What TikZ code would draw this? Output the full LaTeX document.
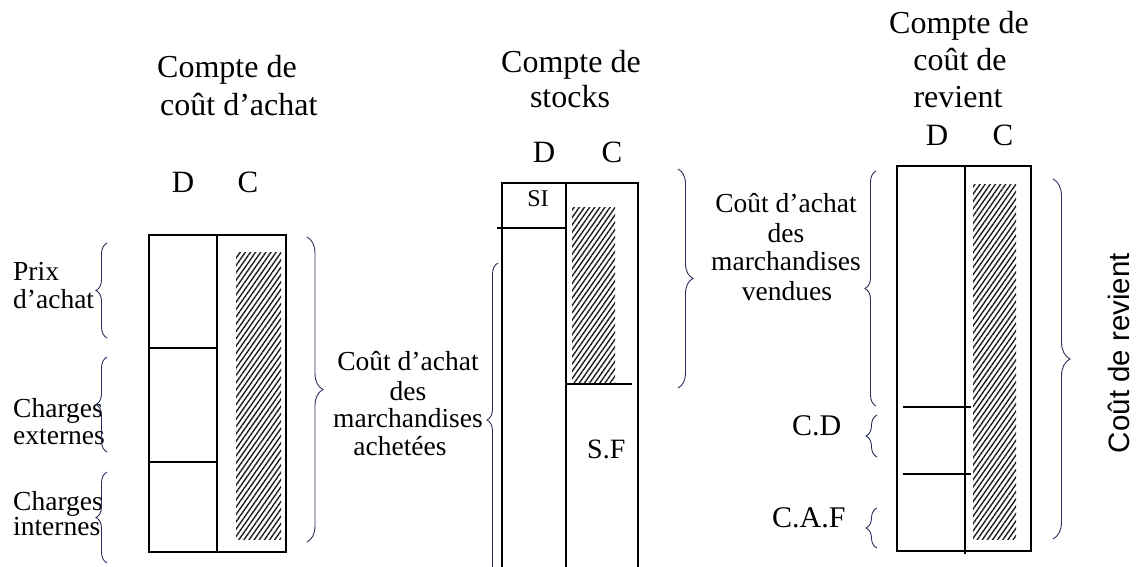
\documentclass[tikz,border=0pt]{standalone}
\usepackage{fontspec}
\setmainfont{Liberation Serif}
\newfontfamily\sansf{Liberation Sans}
\usetikzlibrary{decorations.pathreplacing,patterns.meta}
\definecolor{bracecol}{RGB}{40,48,90}
\definecolor{hatchcol}{RGB}{30,30,30}
\tikzset{
  boxline/.style={line width=1.2pt},
  hatchfill/.style={pattern={Lines[angle=55,distance=4.2pt,line width=1.4pt]},pattern color=hatchcol},
  lbrace/.style={draw=bracecol,line width=0.9pt,decorate,decoration={brace,amplitude=#1}},
  lbrace/.default=11pt,
  ttl/.style={inner sep=0pt,font=\fontsize{32}{37}\selectfont},
  lab/.style={inner sep=0pt,font=\fontsize{27.5}{32}\selectfont},
  dc/.style={inner sep=0pt,font=\fontsize{31}{37}\selectfont}
}
\begin{document}
\begin{tikzpicture}[x=1pt,y=-1pt]
\useasboundingbox (0,0) rectangle (1136,566);

% ---------- Compte de coût d'achat ----------
\node[ttl,anchor=base west] (t1a) at (157,77) {Compte de};
\node[ttl,anchor=base west] (t1b) at (160,115) {coût d’achat};
\node[dc,anchor=base] (d1) at (183,192) {D};
\node[dc,anchor=base] (c1) at (248,192) {C};
\fill[hatchfill] (236,252) rectangle (281,539);
\draw[boxline] (149,235) rectangle (286,552);
\draw[boxline] (217,235) -- (217,552);
\draw[boxline] (149,348) -- (217,348);
\draw[boxline] (149,462) -- (217,462);

\node[lab,anchor=base west] (l1a) at (13,280) {Prix};
\node[lab,anchor=base west] (l1b) at (13,308) {d’achat};
\node[lab,anchor=base west] (l2a) at (13,417) {Charges};
\node[lab,anchor=base west] (l2b) at (13,444) {externes};
\node[lab,anchor=base west] (l3a) at (13,510) {Charges};
\node[lab,anchor=base west] (l3b) at (13,535) {internes};
\draw[lbrace] (107,338) -- (107,243);
\draw[lbrace] (107,452) -- (107,357);
\draw[lbrace] (107,563) -- (107,472);
\draw[lbrace=16pt] (307,237) -- (307,542);

% ---------- Compte de stocks ----------
\node[ttl,anchor=base] (t2a) at (571,72) {Compte de};
\node[ttl,anchor=base] (t2b) at (570,107) {stocks};
\node[dc,anchor=base] (d2) at (544,162) {D};
\node[dc,anchor=base] (c2) at (612,162) {C};
\fill[hatchfill] (572,207) rectangle (615,383);
\draw[boxline] (502,570) -- (502,183) -- (638,183) -- (638,570);
\draw[boxline] (566,183) -- (566,570);
\draw[boxline] (497,228) -- (566,228);
\draw[boxline] (566,384) -- (632,384);
\node[inner sep=0pt,anchor=base,font=\fontsize{24}{28}\selectfont] (si) at (538,206) {SI};
\node[inner sep=0pt,anchor=base west,font=\fontsize{28}{32}\selectfont] (sf) at (587,458) {S.F};

\node[lab,anchor=base] (m1) at (408,370) {Coût d’achat};
\node[lab,anchor=base] (m2) at (408,400) {des};
\node[lab,anchor=base] (m3) at (408,427) {marchandises};
\node[lab,anchor=base] (m4) at (400,455) {achetées};
\draw[lbrace] (498,577) -- (498,263);
\draw[lbrace=15pt] (678,169) -- (678,388);

% ---------- Compte de coût de revient ----------
\node[ttl,anchor=base] (t3a) at (959,33) {Compte de};
\node[ttl,anchor=base] (t3b) at (960,70) {coût de};
\node[ttl,anchor=base] (t3c) at (958,107) {revient};
\node[dc,anchor=base] (d3) at (937,145) {D};
\node[dc,anchor=base] (c3) at (1003,145) {C};
\fill[hatchfill] (973,184) rectangle (1016,539);
\draw[boxline] (897,166) rectangle (1031,551);
\draw[boxline] (965,166) -- (965,554);
\draw[boxline] (903,407) -- (971,407);
\draw[boxline] (903,474) -- (971,474);

\node[lab,anchor=base] (r1) at (786,212) {Coût d’achat};
\node[lab,anchor=base] (r2) at (786,242) {des};
\node[lab,anchor=base] (r3) at (786,270) {marchandises};
\node[lab,anchor=base] (r4) at (787,300) {vendues};
\node[inner sep=0pt,anchor=base west,font=\fontsize{30}{34}\selectfont] (cd) at (792,435) {C.D};
\node[inner sep=0pt,anchor=base west,font=\fontsize{30}{34}\selectfont] (caf) at (772,527) {C.A.F};
\draw[lbrace] (876,406) -- (876,171);
\draw[lbrace] (877,457) -- (877,415);
\draw[lbrace] (877,548) -- (877,508);
\draw[lbrace=17pt] (1053,179) -- (1053,539);
\node[inner sep=0pt,rotate=90,font=\sansf\fontsize{29.5}{34}\selectfont] (cr) at (1119,353) {Coût de revient};
\end{tikzpicture}
\end{document}
